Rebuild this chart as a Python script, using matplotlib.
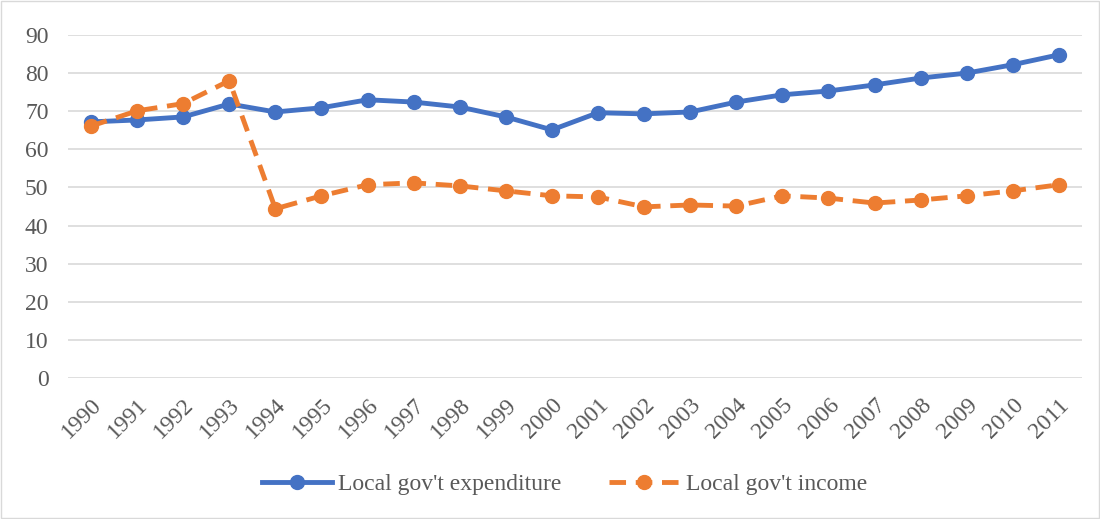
import matplotlib
matplotlib.use("Agg")
import matplotlib.pyplot as plt
from matplotlib.patches import Rectangle

years = [str(y) for y in range(1990, 2012)]
expenditure = [67.2, 67.7, 68.5, 71.9, 69.8, 70.9, 73.0, 72.4, 71.1, 68.5, 65.1,
               69.6, 69.3, 69.8, 72.4, 74.3, 75.3, 76.9, 78.7, 80.0, 82.2, 84.8]
income = [66.1, 70.1, 72.0, 78.0, 44.4, 47.8, 50.7, 51.2, 50.4, 49.1, 47.8,
          47.5, 44.9, 45.4, 45.1, 47.8, 47.2, 45.9, 46.7, 47.8, 49.1, 50.7]
yticks = list(range(0, 91, 10))

plt.rcParams['font.family'] = ['Liberation Serif', 'DejaVu Serif']
txt = '#595959'

fig = plt.figure(figsize=(11, 5.19), dpi=100)
fig.patches.append(Rectangle((0.001, 0.001), 0.998, 0.997, transform=fig.transFigure,
                             fill=False, edgecolor='#d9d9d9', linewidth=1))
ax = fig.add_axes([0.0618, 0.2717, 0.9218, 0.6609])
x = list(range(len(years)))
ax.plot(x, expenditure, color='#4472C4', linewidth=3.5, marker='o', markersize=10,
        label="Local gov't expenditure", zorder=3)
ax.plot(x, income, color='#ED7D31', linewidth=3.5, marker='o', markersize=10,
        dashes=(3.4, 2.0), label="Local gov't income", zorder=4)

ax.set_xlim(-0.5, len(years) - 0.5)
ax.set_ylim(0, 90)
ax.set_yticks(yticks)
ax.set_yticklabels([str(v) for v in yticks], fontsize=17, color=txt)
ax.set_xticks(x)
ax.set_xticklabels(years, rotation=45, ha='right', rotation_mode='anchor',
                   fontsize=17, color=txt)
ax.tick_params(axis='y', length=0, pad=14)
ax.tick_params(axis='x', length=0, pad=12)
ax.grid(axis='y', color='#d9d9d9', linewidth=1.2)
ax.set_axisbelow(True)
for s in ax.spines.values():
    s.set_visible(False)

leg = fig.legend(loc='center', bbox_to_anchor=(0.513, 0.067), ncol=2, frameon=False,
                 fontsize=17, handlelength=3.0, columnspacing=2.0, handletextpad=0.25)
for t in leg.get_texts():
    t.set_color(txt)

fig.savefig('out.png', dpi=100)
